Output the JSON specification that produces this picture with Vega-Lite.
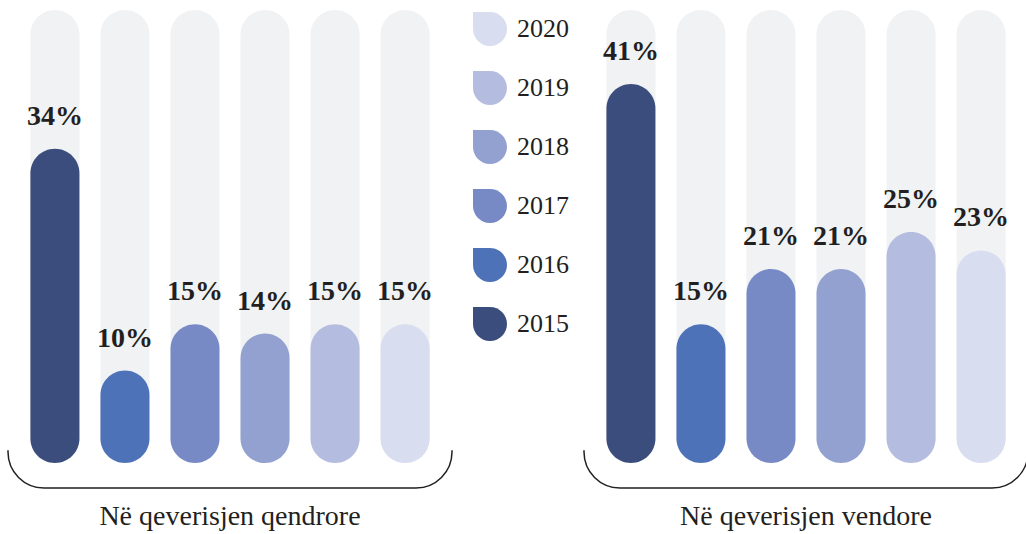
{
  "$schema": "https://vega.github.io/schema/vega-lite/v6.json",
  "padding": {"left": 5, "top": 10, "right": 0, "bottom": 0},
  "bounds": "flush",
  "background": "white",
  "data": {"values": [
    {"panel": "Në qeverisjen qendrore", "year": "2015", "value": 0.34},
    {"panel": "Në qeverisjen qendrore", "year": "2016", "value": 0.10},
    {"panel": "Në qeverisjen qendrore", "year": "2017", "value": 0.15},
    {"panel": "Në qeverisjen qendrore", "year": "2018", "value": 0.14},
    {"panel": "Në qeverisjen qendrore", "year": "2019", "value": 0.15},
    {"panel": "Në qeverisjen qendrore", "year": "2020", "value": 0.15},
    {"panel": "Në qeverisjen vendore", "year": "2015", "value": 0.41},
    {"panel": "Në qeverisjen vendore", "year": "2016", "value": 0.15},
    {"panel": "Në qeverisjen vendore", "year": "2017", "value": 0.21},
    {"panel": "Në qeverisjen vendore", "year": "2018", "value": 0.21},
    {"panel": "Në qeverisjen vendore", "year": "2019", "value": 0.25},
    {"panel": "Në qeverisjen vendore", "year": "2020", "value": 0.23}
  ]},
  "facet": {
    "column": {
      "field": "panel", "type": "nominal",
      "sort": ["Në qeverisjen qendrore", "Në qeverisjen vendore"],
      "header": {"title": null, "labelOrient": "bottom", "labelFont": "Liberation Serif", "labelFontSize": 28, "labelColor": "#231f20", "labelPadding": 15}
    }
  },
  "spacing": 132,
  "spec": {
    "width": 444,
    "height": 478,
    "encoding": {
      "x": {"field": "year", "type": "nominal", "sort": ["2015", "2016", "2017", "2018", "2019", "2020"], "axis": null, "scale": {"paddingInner": 0.3, "paddingOuter": 0.32}}
    },
    "layer": [
      {
        "transform": [{"filter": "datum.year == '2015'"}],
        "mark": {"type": "rect", "fill": "white", "fillOpacity": 0, "stroke": "#231f20", "strokeWidth": 1.5, "cornerRadius": 36},
        "encoding": {
          "x": {"value": 0},
          "x2": {"value": "width"},
          "y": {"datum": 0.30, "type": "quantitative", "scale": {"domain": [-0.027, 0.49], "nice": false, "zero": false}, "axis": null},
          "y2": {"datum": -0.027}
        }
      },
      {
        "transform": [{"filter": "datum.year == '2015'"}],
        "mark": {"type": "rect", "fill": "white", "stroke": "white", "strokeWidth": 6},
        "encoding": {
          "x": {"value": 0},
          "x2": {"value": "width"},
          "y": {"datum": 0.45, "type": "quantitative"},
          "y2": {"datum": 0.017}
        }
      },
      {
        "mark": {"type": "bar", "color": "#f1f2f4", "cornerRadius": 24.5},
        "encoding": {
          "y": {"datum": 0.49, "type": "quantitative"},
          "y2": {"datum": 0}
        }
      },
      {
        "mark": {"type": "bar", "cornerRadius": 24.5},
        "encoding": {
          "y": {"field": "value", "type": "quantitative"},
          "y2": {"datum": 0},
          "color": {
            "field": "year", "type": "nominal",
            "scale": {"domain": ["2020", "2019", "2018", "2017", "2016", "2015"], "range": ["#d8ddef", "#b4bde0", "#93a1d0", "#778ac5", "#4d72b7", "#3b4d7d"]},
            "legend": {
              "title": null, "orient": "none", "legendX": 465, "legendY": 2,
              "symbolType": "M-1,-1H0A1,1,0,0,1,1,0A1,1,0,0,1,0,1A1,1,0,0,1,-1,0Z",
              "symbolSize": 1156, "symbolStrokeWidth": 0, "symbolOpacity": 1,
              "labelFont": "Liberation Serif", "labelFontSize": 26, "labelColor": "#231f20",
              "labelOffset": 10, "rowPadding": 25
            }
          }
        }
      },
      {
        "mark": {"type": "text", "font": "Liberation Serif", "fontWeight": "bold", "fontSize": 28, "baseline": "alphabetic", "align": "center", "dy": -24, "color": "#231f20"},
        "encoding": {
          "y": {"field": "value", "type": "quantitative"},
          "text": {"field": "value", "type": "quantitative", "format": ".0%"}
        }
      }
    ]
  },
  "config": {"view": {"stroke": null}}
}
